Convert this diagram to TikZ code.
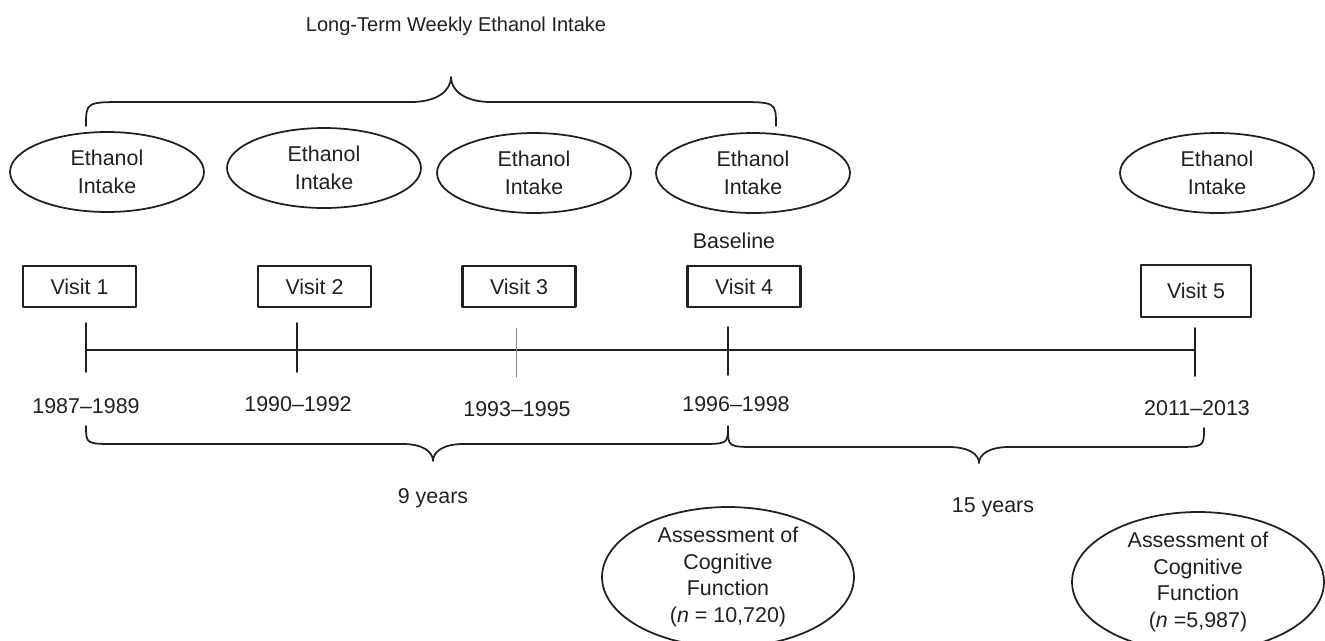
\documentclass[tikz,border=0pt]{standalone}
\usepackage{fontspec}
\setmainfont{Liberation Sans}
\usetikzlibrary{shapes.geometric,calc}
\definecolor{ink}{HTML}{231F20}
% curly bracket: #1 left x, #2 right x, #3 tip x, #4 end y, #5 bar y, #6 tip y, #7 corner
\newcommand{\tlbrace}[7]{%
  \draw[brc] (#1,#4) .. controls (#1,#5) .. ({#1+#7},#5) -- ({#3-#7},#5)
    .. controls ({#3-0.35*#7},#5) and (#3,{#5+0.45*(#6-#5)}) .. (#3,#6)
    .. controls (#3,{#5+0.45*(#6-#5)}) and ({#3+0.35*#7},#5) .. ({#3+#7},#5)
    -- ({#2-#7},#5) .. controls (#2,#5) .. (#2,#4);}

\begin{document}
\begin{tikzpicture}[x=0.02cm, y=-0.02cm,
  font=\fontsize{12.2}{15.9}\selectfont, line cap=round, line join=round,
  intake/.style={draw=ink, line width=1pt, ellipse, inner sep=0pt, text=ink,
                 minimum width=3.88cm, minimum height=1.6cm, align=center},
  visitbox/.style={draw=ink, line width=1.3pt, inner sep=0pt, text=ink,
                   minimum width=2.26cm, minimum height=0.82cm},
  lbl/.style={text=ink, inner sep=0pt},
  cogn/.style={draw=ink, line width=1pt, ellipse, inner xsep=0pt, inner ysep=-3pt,
               minimum width=5.04cm, minimum height=2.8cm, align=center, text=ink,
               font=\fontsize{12.2}{15.3}\selectfont},
  tl/.style={ink, line width=1.1pt},
  brc/.style={ink, line width=1pt}]
\useasboundingbox (0,0) rectangle (1325,640);

% ================================================================ intake
\node[lbl, font=\fontsize{11.4}{14}\selectfont] (title) at (456,26)
  {Long-Term Weekly Ethanol Intake};
\tlbrace{86}{776}{451}{126}{102}{77}{40}
\foreach \n/\x/\y in {1/107/172, 2/324/168, 3/534/173, 4/753/173, 5/1217/173}
  \node[intake] (eth\n) at (\x,\y) {Ethanol\\Intake};

% ================================================================ visits
\node[lbl] (base) at (734,241) {Baseline};
\foreach \n/\x in {1/79.5, 2/314.5, 3/519, 4/744}
  \node[visitbox] (visit\n) at (\x,286.5) {Visit \n};
\node[visitbox, minimum width=2.2cm, minimum height=1.04cm] (visit5) at (1196,291) {Visit 5};

% ================================================================ time line
\foreach \n/\x in {1/86, 2/297, 3/516, 4/728, 5/1195}
  \coordinate (t\n) at (\x,350);
\draw[tl] (t1) -- (t5);
\foreach \n/\a/\b in {1/-27/22, 2/-27/22, 4/-23/25, 5/-22/26}
  \draw[tl] ($(t\n)+(0,\a)$) -- ($(t\n)+(0,\b)$);
\draw[ink!55, line width=0.5pt] ($(t3)+(0,-22)$) -- ($(t3)+(0,27)$);

\foreach \n/\x/\y/\t in {1/86/406/1987--1989, 2/298/404/1990--1992,
                         3/517/409/1993--1995, 4/736/404/1996--1998,
                         5/1197/408/2011--2013}
  \node[lbl] (yr\n) at (\x,\y) {\t};

% ================================================================ spans
\tlbrace{86}{728}{433}{426}{444}{461}{30}
\tlbrace{728}{1204}{979}{428}{447}{463}{30}
\node[lbl] (nine) at (433,498) {9 years};
\node[lbl] (fifteen) at (993,507) {15 years};

% ================================================================ cognition
\node[cogn] (cog4) at (728,577)
  {Assessment of\\Cognitive\\Function\\(\emph{n} = 10,720)};
\node[cogn] (cog5) at (1198,582)
  {Assessment of\\Cognitive\\Function\\(\emph{n} =5,987)};

\end{tikzpicture}
\end{document}
